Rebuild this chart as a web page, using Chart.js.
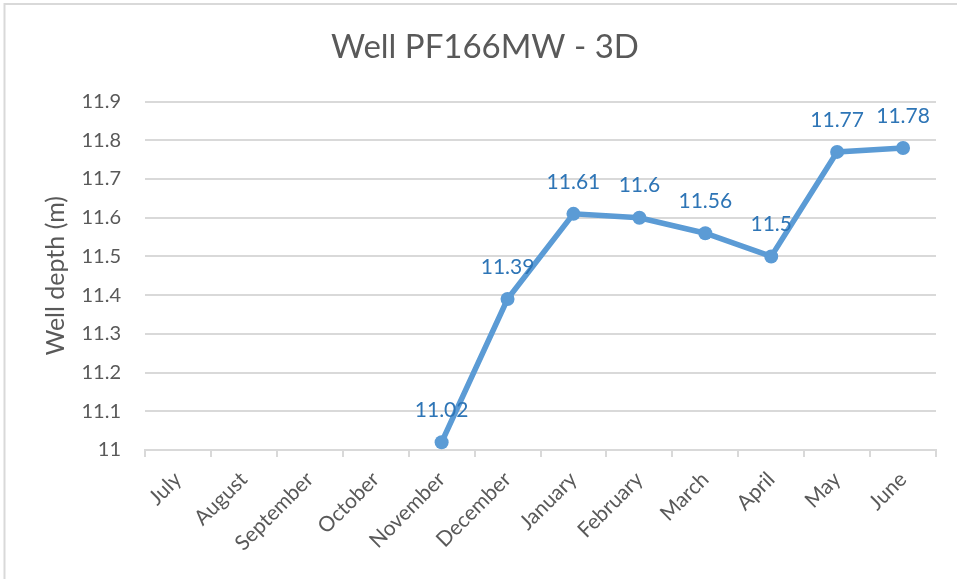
<!DOCTYPE html>
<html>
<head>
<meta charset="utf-8">
<script src="https://cdn.jsdelivr.net/npm/chart.js@4"></script>
<style>
  html, body { margin: 0; padding: 0; background: #fff; }
  #wrap { width: 957px; height: 579px; }
</style>
</head>
<body>
<div id="wrap"><canvas id="chart" width="957" height="579"></canvas></div>
<script>
// chart data
const months = ['July', 'August', 'September', 'October', 'November', 'December',
    'January', 'February', 'March', 'April', 'May', 'June'];
const depths = [null, null, null, null, 11.02, 11.39, 11.61, 11.6, 11.56, 11.5, 11.77, 11.78];
const titleText = 'Well PF166MW - 3D';
const yTitle = 'Well depth (m)';

const grey = '#595959';
const gridGrey = '#d9d9d9';
const blue = '#5b9bd5';

// thin frame round the chart (only top/left show in the picture)
const framePlugin = {
    id: 'frame',
    beforeDraw(chart) {
        const ctx = chart.ctx;
        ctx.save();
        ctx.fillStyle = '#fff';
        ctx.fillRect(0, 0, chart.width, chart.height);
        ctx.strokeStyle = gridGrey;
        ctx.lineWidth = 2;
        ctx.strokeRect(4.5, 4, 1200, 1200);
        ctx.restore();
    }
};

// value labels above each point
const labelPlugin = {
    id: 'pointLabels',
    afterDatasetsDraw(chart) {
        const ctx = chart.ctx;
        const meta = chart.getDatasetMeta(0);
        ctx.save();
        ctx.font = '21px Lato';
        ctx.fillStyle = '#2e75b6';
        ctx.textAlign = 'center';
        ctx.textBaseline = 'middle';
        meta.data.forEach((pt, i) => {
            const v = depths[i];
            if (v === null) return;
            ctx.fillText(String(v), pt.x, pt.y - 32);
        });
        ctx.restore();
    }
};

new Chart(document.getElementById('chart'), {
    type: 'line',
    data: {
        labels: months,
        datasets: [{
            data: depths,
            borderColor: blue,
            backgroundColor: blue,
            borderWidth: 5.5,
            pointRadius: 7,
            pointHoverRadius: 7,
            pointBackgroundColor: blue,
            pointBorderWidth: 0,
            tension: 0,
        }],
    },
    options: {
        responsive: false,
        animation: false,
        layout: { padding: { left: 34, right: 21, top: 0, bottom: 0 } },
        plugins: {
            legend: { display: false },
            tooltip: { enabled: false },
            title: {
                display: true,
                text: titleText,
                color: grey,
                font: { family: 'Lato', size: 33, weight: 'normal' },
                padding: { top: 28, bottom: 34 },
            },
        },
        scales: {
            x: {
                offset: true,
                grid: {
                    offset: true,
                    drawOnChartArea: false,
                    color: gridGrey,
                    lineWidth: 2,
                    tickLength: 7,
                },
                border: { color: gridGrey, width: 2 },
                ticks: {
                    color: grey,
                    font: { family: 'Lato', size: 21 },
                    maxRotation: 45,
                    minRotation: 45,
                    autoSkip: false,
                    padding: 10,
                },
                afterFit(scale) { scale.height = 129; },
            },
            y: {
                min: 11,
                max: 11.9,
                grid: {
                    color: gridGrey,
                    lineWidth: 2,
                    drawTicks: false,
                },
                border: { display: false },
                ticks: {
                    stepSize: 0.1,
                    color: grey,
                    padding: 24,
                    font: { family: 'Lato', size: 20 },
                    callback: (v) => String(Number(v.toFixed(1))),
                },
                title: {
                    display: true,
                    text: yTitle,
                    color: grey,
                    font: { family: 'Lato', size: 25 },
                    padding: { top: 7, bottom: 0 },
                },
                afterFit(scale) { scale.width = 111; },
            },
        },
    },
    plugins: [framePlugin, labelPlugin],
});
</script>
</body>
</html>
